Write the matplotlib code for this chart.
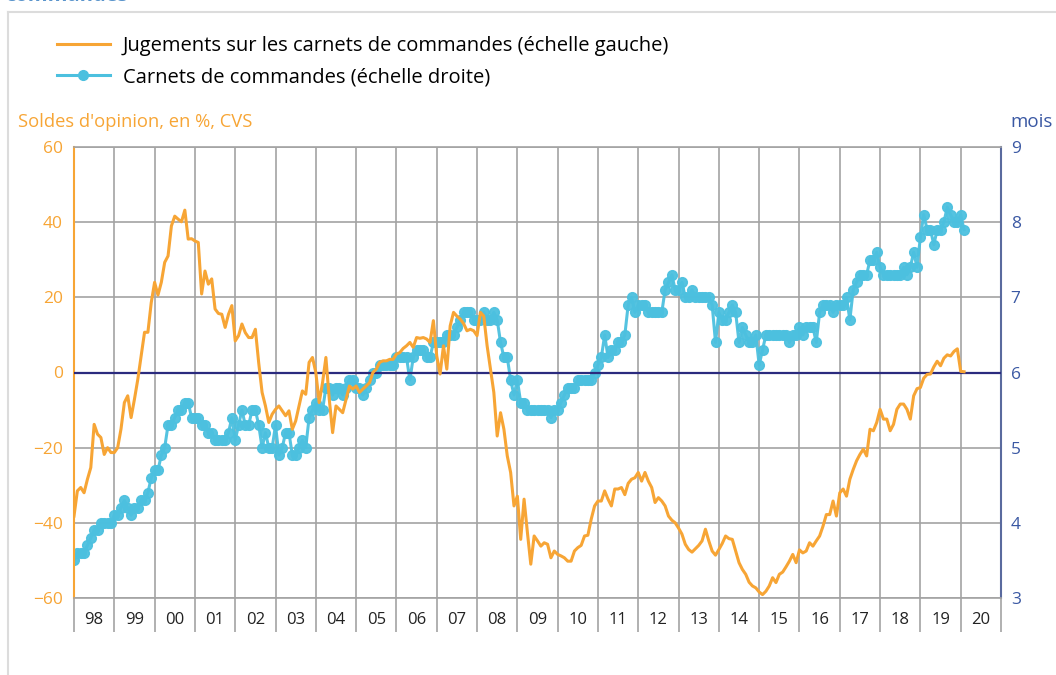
import numpy as np
import matplotlib
matplotlib.use("Agg")
import matplotlib.pyplot as plt
from matplotlib.lines import Line2D

plt.rcParams['font.family'] = ['Open Sans', 'DejaVu Sans']

# --- data (monthly, Jan 1998 -> Feb 2020) ---
first_year = 1998
year_labels = ['98', '99', '00', '01', '02', '03', '04', '05', '06', '07', '08',
               '09', '10', '11', '12', '13', '14', '15', '16', '17', '18', '19', '20']

# Jugements sur les carnets de commandes (solde d'opinion, %)
jugements = [
    -38.2, -31.5, -30.6, -32.0, -28.4, -25.3, -13.8, -16.4, -17.3, -21.8, -20.0, -21.3,  # 98
    -21.3, -20.0, -15.0, -8.0, -6.2, -12.0, -7.1, -1.8, 4.4, 10.7, 10.7, 18.6,           # 99
    24.0, 20.6, 24.0, 29.3, 31.0, 39.0, 41.6, 40.8, 40.1, 43.2, 35.5, 35.6,              # 00
    35.0, 34.6, 20.9, 27.0, 23.5, 24.9, 16.9, 15.7, 15.5, 12.0, 15.5, 17.8,              # 01
    8.4, 9.8, 12.9, 10.6, 9.3, 9.3, 11.5, 2.5, -5.3, -8.9, -13.3, -11.1,                 # 02
    -9.8, -8.9, -10.2, -11.5, -10.2, -15.1, -12.9, -8.9, -4.9, -5.8, 2.7, 4.0,           # 03
    0.0, -8.0, -2.7, 4.0, -7.1, -16.0, -8.9, -9.8, -10.7, -7.1, -3.6, -4.4,              # 04
    -3.6, -5.3, -4.4, -3.6, -2.7, 0.0, 0.9, 2.7, 3.1, 3.1, 3.5, 3.5,                     # 05
    4.9, 5.3, 6.4, 7.1, 8.0, 6.7, 9.3, 9.1, 9.3, 8.9, 8.0, 13.8,                         # 06
    4.4, -0.4, 7.1, 0.9, 12.4, 16.0, 15.0, 14.2, 13.0, 11.1, 11.5, 11.1,                 # 07
    9.8, 16.0, 15.0, 7.1, 0.9, -5.3, -16.9, -10.7, -15.1, -22.2, -26.6, -35.5,           # 08
    -32.9, -44.4, -33.7, -42.6, -51.0, -43.5, -44.8, -46.2, -45.3, -45.7, -49.3, -47.5,  # 09
    -48.4, -48.8, -49.3, -50.2, -50.2, -47.5, -46.6, -46.0, -43.5, -43.3, -39.0, -35.5,  # 10
    -34.2, -34.2, -31.5, -33.7, -35.5, -31.0, -31.0, -30.6, -32.5, -29.5, -28.4, -28.0,  # 11
    -26.6, -28.9, -26.6, -28.9, -30.6, -34.6, -33.3, -34.2, -35.5, -38.2, -39.3, -40.0,  # 12
    -41.4, -43.0, -45.7, -47.1, -47.8, -46.9, -46.0, -44.8, -41.7, -44.8, -47.5, -48.6,  # 13
    -47.1, -45.5, -43.5, -44.2, -44.4, -47.5, -50.6, -52.4, -53.7, -55.8, -56.8, -57.3,  # 14
    -58.4, -59.1, -58.2, -56.8, -54.6, -55.9, -53.7, -53.1, -51.7, -50.2, -48.4, -50.6,  # 15
    -47.2, -48.0, -47.5, -45.3, -46.2, -44.8, -43.5, -40.9, -37.8, -37.8, -34.2, -38.2,  # 16
    -32.0, -31.0, -32.9, -28.4, -25.8, -23.5, -21.8, -20.4, -22.2, -15.1, -15.5, -13.3,  # 17
    -9.8, -12.4, -12.4, -15.5, -13.8, -9.8, -8.4, -8.4, -9.8, -12.4, -6.2, -4.3,         # 18
    -4.0, -1.5, -0.5, -0.4, 1.5, 3.0, 1.8, 3.8, 4.7, 4.4, 5.6, 6.3,                      # 19
    0.3, 0.2,                                                                            # 20
]

# Carnets de commandes (en mois de production)
carnets = [
    3.5, 3.6, 3.6, 3.6, 3.7, 3.8, 3.9, 3.9, 4.0, 4.0, 4.0, 4.0,  # 98
    4.1, 4.1, 4.2, 4.3, 4.2, 4.1, 4.2, 4.2, 4.3, 4.3, 4.4, 4.6,  # 99
    4.7, 4.7, 4.9, 5.0, 5.3, 5.3, 5.4, 5.5, 5.5, 5.6, 5.6, 5.4,  # 00
    5.4, 5.4, 5.3, 5.3, 5.2, 5.2, 5.1, 5.1, 5.1, 5.1, 5.2, 5.4,  # 01
    5.1, 5.3, 5.5, 5.3, 5.3, 5.5, 5.5, 5.3, 5.0, 5.2, 5.0, 5.0,  # 02
    5.3, 4.9, 5.0, 5.2, 5.2, 4.9, 4.9, 5.0, 5.1, 5.0, 5.4, 5.5,  # 03
    5.6, 5.5, 5.5, 5.8, 5.8, 5.7, 5.8, 5.8, 5.7, 5.8, 5.9, 5.9,  # 04
    5.8, 5.8, 5.7, 5.8, 5.9, 6.0, 6.0, 6.1, 6.1, 6.1, 6.1, 6.1,  # 05
    6.2, 6.2, 6.2, 6.2, 5.9, 6.2, 6.3, 6.3, 6.3, 6.2, 6.2, 6.4,  # 06
    6.4, 6.4, 6.4, 6.5, 6.5, 6.5, 6.6, 6.7, 6.8, 6.8, 6.8, 6.7,  # 07
    6.7, 6.7, 6.8, 6.7, 6.7, 6.8, 6.7, 6.4, 6.2, 6.2, 5.9, 5.7,  # 08
    5.9, 5.6, 5.6, 5.5, 5.5, 5.5, 5.5, 5.5, 5.5, 5.5, 5.4, 5.5,  # 09
    5.5, 5.6, 5.7, 5.8, 5.8, 5.8, 5.9, 5.9, 5.9, 5.9, 5.9, 6.0,  # 10
    6.1, 6.2, 6.5, 6.2, 6.3, 6.3, 6.4, 6.4, 6.5, 6.9, 7.0, 6.8,  # 11
    6.9, 6.9, 6.9, 6.8, 6.8, 6.8, 6.8, 6.8, 7.1, 7.2, 7.3, 7.1,  # 12
    7.1, 7.2, 7.0, 7.0, 7.1, 7.0, 7.0, 7.0, 7.0, 7.0, 6.9, 6.4,  # 13
    6.8, 6.7, 6.7, 6.8, 6.9, 6.8, 6.4, 6.6, 6.5, 6.4, 6.4, 6.5,  # 14
    6.1, 6.3, 6.5, 6.5, 6.5, 6.5, 6.5, 6.5, 6.5, 6.4, 6.5, 6.5,  # 15
    6.6, 6.5, 6.6, 6.6, 6.6, 6.4, 6.8, 6.9, 6.9, 6.9, 6.8, 6.9,  # 16
    6.9, 6.9, 7.0, 6.7, 7.1, 7.2, 7.3, 7.3, 7.3, 7.5, 7.5, 7.6,  # 17
    7.4, 7.3, 7.3, 7.3, 7.3, 7.3, 7.3, 7.4, 7.3, 7.4, 7.6, 7.4,  # 18
    7.8, 8.1, 7.9, 7.9, 7.7, 7.9, 7.9, 8.0, 8.2, 8.1, 8.0, 8.0,  # 19
    8.1, 7.9,                                                    # 20
]

left_ticks = [-60, -40, -20, 0, 20, 40, 60]
right_ticks = [3, 4, 5, 6, 7, 8, 9]

# couleurs
orange = '#F7A535'
bleu = '#4CC0DF'
marine = '#2B2B7E'
bleu_axe = '#3A58A3'
gris = '#A3A3A3'

t_jug = first_year + np.arange(len(jugements)) / 12
t_car = first_year + np.arange(len(carnets)) / 12

W, H = 1056, 675
fig = plt.figure(figsize=(W / 100, H / 100), dpi=100)
ax = fig.add_axes([74 / W, 77 / H, 927 / W, 451 / H])
ax2 = ax.twinx()

# blue series underneath, orange on top
ax.set_zorder(ax2.get_zorder() + 1)
ax.patch.set_visible(False)

n_years = len(year_labels)
ax.set_xlim(first_year, first_year + n_years)
ax.set_ylim(-60, 60)
ax2.set_ylim(3, 9)

# x axis: year boundaries extended below, labels centred in each year
ax.set_xticks(np.arange(first_year, first_year + n_years + 1))
ax.set_xticklabels([])
ax.tick_params(axis='x', which='major', length=24.5, width=1.2, color=gris, direction='out')
ax.set_xticks(first_year + 0.5 + np.arange(n_years), minor=True)
ax.set_xticklabels(year_labels, minor=True)
ax.tick_params(axis='x', which='minor', length=0, pad=10, labelsize=12, labelcolor='#222222')

# grid drawn on the bottom axes (so it stays under the blue markers)
ax2.xaxis.set_visible(True)
ax2.tick_params(axis='x', which='both', bottom=False, top=False,
                labelbottom=False, labeltop=False)
ax2.set_yticks(right_ticks)
ax2.grid(True, which='major', color=gris, lw=1.2)
ax2.set_axisbelow(True)

ax2.plot(t_car, carnets, color=bleu, lw=2.2, marker='o', ms=7, mec=bleu, mfc=bleu, alpha=0.95)

ax.axhline(0, color=marine, lw=1.6, zorder=3)
ax.plot(t_jug, jugements, color=orange, lw=2.2, zorder=4)

ax.set_yticks(left_ticks)
ax.tick_params(axis='y', length=0, pad=8, labelsize=12.5, labelcolor=orange)
ax2.tick_params(axis='y', length=0, pad=7, labelsize=12.5, labelcolor=bleu_axe)

for s in ['top', 'bottom']:
    ax.spines[s].set_color(gris)
    ax.spines[s].set_linewidth(1.2)
ax.spines['left'].set_color(orange)
ax.spines['left'].set_linewidth(1.5)
ax.spines['right'].set_visible(False)
for s in ['top', 'bottom', 'left']:
    ax2.spines[s].set_visible(False)
ax2.spines['right'].set_color('#5A6A9E')
ax2.spines['right'].set_linewidth(1.5)

# axis titles
fig.text(18 / W, 1 - 122 / H, "Soldes d'opinion, en %, CVS", color=orange, fontsize=13.2,
         ha='left', va='center')
fig.text(1010 / W, 1 - 122 / H, "mois", color=bleu_axe, fontsize=13.5, ha='left', va='center')

# legend
handles = [Line2D([], [], color=orange, lw=2.2),
           Line2D([], [], color=bleu, lw=2.2, marker='o', ms=7)]
labels = ['Jugements sur les carnets de commandes (échelle gauche)',
          'Carnets de commandes (échelle droite)']
fig.legend(handles, labels, loc='upper left', bbox_to_anchor=(57 / W, 1 - 36 / H),
           frameon=False, fontsize=14.5, handlelength=2.63, handletextpad=0.65,
           labelspacing=0.57, borderpad=0, borderaxespad=0, numpoints=1)

# card frame + clipped title above (only its lower edge shows, as in the source)
fig.add_artist(Line2D([8 / W, 8 / W], [0, 1 - 12 / H], color='#DCDCDC', lw=1.5))
fig.add_artist(Line2D([8 / W, 1], [1 - 12 / H, 1 - 12 / H], color='#DCDCDC', lw=1.5))
fig.text(5 / W, 1 - 1 / H, "commandes", color='#5B95CC', fontsize=14.5, fontweight='bold',
         ha='left', va='baseline')

fig.savefig('out.png', dpi=100)
